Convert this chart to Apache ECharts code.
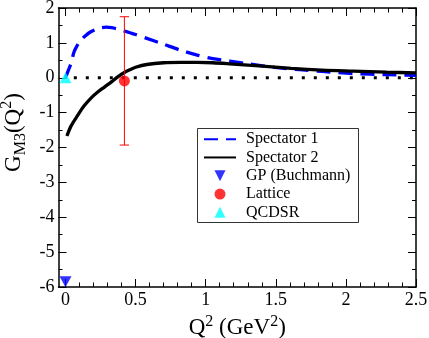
<!DOCTYPE html>
<html>
<head>
<meta charset="utf-8">
<script src="https://cdn.jsdelivr.net/npm/echarts@6/dist/echarts.min.js"></script>
<style>html,body{margin:0;padding:0;background:#fff;}#c{width:429px;height:338px;}</style>
</head>
<body>
<div id="c"></div>
<script>
// ---- data ----
var spec1Q = [0.0, 0.02, 0.04, 0.06, 0.08, 0.11, 0.14, 0.18, 0.22, 0.25, 0.29, 0.33, 0.37, 0.42, 0.46, 0.50, 0.58, 0.70, 0.82, 0.94, 1.05, 1.17, 1.32, 1.49, 1.67, 1.83, 2.05, 2.29, 2.50];
var spec1G = [0.0, 0.21, 0.42, 0.73, 0.90, 1.08, 1.20, 1.32, 1.39, 1.43, 1.45, 1.44, 1.40, 1.34, 1.29, 1.24, 1.13, 0.96, 0.79, 0.65, 0.55, 0.48, 0.39, 0.30, 0.23, 0.18, 0.12, 0.09, 0.07];
var spec2Q = [0.01, 0.04, 0.09, 0.13, 0.18, 0.23, 0.28, 0.33, 0.37, 0.42, 0.46, 0.50, 0.58, 0.70, 0.82, 0.94, 1.05, 1.17, 1.38, 1.61, 1.83, 2.05, 2.29, 2.50];
var spec2G = [-1.67, -1.38, -1.06, -0.82, -0.59, -0.41, -0.26, -0.11, 0.02, 0.15, 0.23, 0.30, 0.38, 0.43, 0.44, 0.44, 0.43, 0.40, 0.34, 0.27, 0.22, 0.19, 0.16, 0.14];
var gpQ = [0.0], gpG = [-5.85];
var latticeQ = [0.42], latticeG = [-0.09], latticeErr = [1.84];
var qcdsrQ = [0.0], qcdsrG = [0.0];
var zeroQ = [0.0, 2.5], zeroG = [0, 0];
var xMajor = [0, 0.5, 1, 1.5, 2, 2.5];
var xMinor = [0.1,0.2,0.3,0.4,0.6,0.7,0.8,0.9,1.1,1.2,1.3,1.4,1.6,1.7,1.8,1.9,2.1,2.2,2.3,2.4];
var legendNames = ['Spectator 1', 'Spectator 2', 'GP (Buchmann)', 'Lattice', 'QCDSR'];

function pairs(xs, ys) { return xs.map(function (x, i) { return [x, ys[i]]; }); }

var FONT = 'Liberation Serif';
var TRI_UP = 'path://M5,0L10,10L0,10Z';
var TRI_DOWN = 'path://M0,0L10,0L5,10Z';

function xAx(pos, values, len, showLine, showLabel, extra) {
  var a = {
    type: 'value', position: pos, min: -0.05, max: 2.5,
    axisLine: { show: showLine, onZero: false, lineStyle: { color: '#000', width: 1.5 } },
    axisTick: { show: true, inside: true, length: len, customValues: values, lineStyle: { color: '#000', width: 1 } },
    axisLabel: { show: showLabel },
    splitLine: { show: false }
  };
  if (showLabel) {
    a.axisLabel = { show: true, customValues: xMajor, margin: 4, color: '#000', fontFamily: FONT, fontSize: 18,
      formatter: function (v) { return String(v); } };
  }
  for (var k in extra) a[k] = extra[k];
  return a;
}
function yAx(pos, showLabel, extra) {
  var a = {
    type: 'value', position: pos, min: -6, max: 2, interval: 1,
    axisLine: { show: true, onZero: false, lineStyle: { color: '#000', width: 1.5 } },
    axisTick: { show: true, inside: true, length: 8, lineStyle: { color: '#000', width: 1 } },
    minorTick: { show: true, splitNumber: 2, length: 4, lineStyle: { color: '#000', width: 1 } },
    axisLabel: { show: showLabel, margin: 4, color: '#000', fontFamily: FONT, fontSize: 18 },
    splitLine: { show: false }, minorSplitLine: { show: false }
  };
  for (var k in extra) a[k] = extra[k];
  return a;
}

var chart = echarts.init(document.getElementById('c'), null, { renderer: 'canvas' });
chart.setOption({
  animation: false,
  backgroundColor: '#fff',
  textStyle: { fontFamily: FONT },
  grid: { left: 58.5, right: 13, top: 8, bottom: 51, containLabel: false, outerBoundsMode: 'none' },
  xAxis: [
    xAx('bottom', xMajor, 8, true, true, {
      name: '{n|Q}{s|2}{n| (GeV}{s|2}{n|)}', nameLocation: 'middle', nameGap: 20,
      nameTextStyle: { color: '#000', fontFamily: FONT, rich: {
        n: { fontSize: 23, fontFamily: FONT, color: '#000', lineHeight: 26, verticalAlign: 'bottom' },
        s: { fontSize: 16, fontFamily: FONT, color: '#000', lineHeight: 26, verticalAlign: 'top' } } }
    }),
    xAx('bottom', xMinor, 4.5, false, false, {}),
    xAx('top', xMajor, 8, true, false, {}),
    xAx('top', xMinor, 4.5, false, false, {})
  ],
  yAxis: [
    yAx('left', true, {
      name: '{n|G}{b|M3}{n|(Q}{s|2}{n|)}', nameLocation: 'middle', nameGap: 24,
      nameTextStyle: { color: '#000', fontFamily: FONT, padding: [0, 0, 0, 30], rich: {
        n: { fontSize: 23, fontFamily: FONT, color: '#000', lineHeight: 30, verticalAlign: 'middle' },
        b: { fontSize: 16, fontFamily: FONT, color: '#000', lineHeight: 30, verticalAlign: 'bottom' },
        s: { fontSize: 16, fontFamily: FONT, color: '#000', lineHeight: 30, verticalAlign: 'top' } } }
    }),
    yAx('right', false, {})
  ],
  legend: {
    orient: 'vertical', left: 203, top: 130, padding: 0,
    itemWidth: 32, itemHeight: 11, itemGap: 0,
    data: [
      { name: 'Spectator 1', itemStyle: { opacity: 0 } },
      { name: 'Spectator 2', itemStyle: { opacity: 0 } },
      { name: 'GP (Buchmann)', icon: TRI_DOWN },
      { name: 'Lattice', icon: 'circle' },
      { name: 'QCDSR', icon: TRI_UP }
    ],
    textStyle: { fontFamily: FONT, fontSize: 16, color: '#000', lineHeight: 18.3, padding: [0, 0, 0, 5] }
  },
  graphic: [{
    type: 'rect', left: 197, top: 128, z: 0,
    shape: { width: 161, height: 94 },
    style: { fill: 'rgba(0,0,0,0)', stroke: '#333', lineWidth: 1 }
  }],
  series: [
    { name: 'zero', type: 'line', data: pairs(zeroQ, zeroG), symbol: 'none', z: 1,
      lineStyle: { color: '#000', width: 3, type: [3, 9], dashOffset: 3.7 } },
    { name: legendNames[0], type: 'line', data: pairs(spec1Q, spec1G), symbol: 'none', smooth: 0.3, z: 2,
      color: '#0000ff', lineStyle: { color: '#0000ff', width: 3.3, type: [14, 8] } },
    { name: legendNames[1], type: 'line', data: pairs(spec2Q, spec2G), symbol: 'none', smooth: 0.3, z: 3,
      color: '#000', lineStyle: { color: '#000', width: 3.3 } },
    { name: 'err', type: 'custom', z: 4,
      data: latticeQ.map(function (q, i) { return [q, latticeG[i] - latticeErr[i], latticeG[i] + latticeErr[i]]; }),
      encode: { x: 0, y: [1, 2] },
      renderItem: function (params, api) {
        var x = api.value(0);
        var lo = api.coord([x, api.value(1)]), hi = api.coord([x, api.value(2)]);
        var hw = 4.7, st = { stroke: '#ff0000', lineWidth: 1 };
        return { type: 'group', children: [
          { type: 'line', shape: { x1: lo[0], y1: lo[1], x2: hi[0], y2: hi[1] }, style: st },
          { type: 'line', shape: { x1: lo[0] - hw, y1: lo[1], x2: lo[0] + hw, y2: lo[1] }, style: st },
          { type: 'line', shape: { x1: hi[0] - hw, y1: hi[1], x2: hi[0] + hw, y2: hi[1] }, style: st }
        ] };
      } },
    { name: legendNames[2], type: 'scatter', data: pairs(gpQ, gpG), symbol: TRI_DOWN, symbolSize: [12, 11], z: 5,
      itemStyle: { color: '#0000ff' } },
    { name: legendNames[3], type: 'scatter', data: pairs(latticeQ, latticeG), symbol: 'circle', symbolSize: 11, z: 5,
      itemStyle: { color: '#ff0000' } },
    { name: legendNames[4], type: 'scatter', data: pairs(qcdsrQ, qcdsrG), symbol: TRI_UP, symbolSize: [12, 11], z: 5,
      itemStyle: { color: '#00ffff' } }
  ]
});
</script>
</body>
</html>
